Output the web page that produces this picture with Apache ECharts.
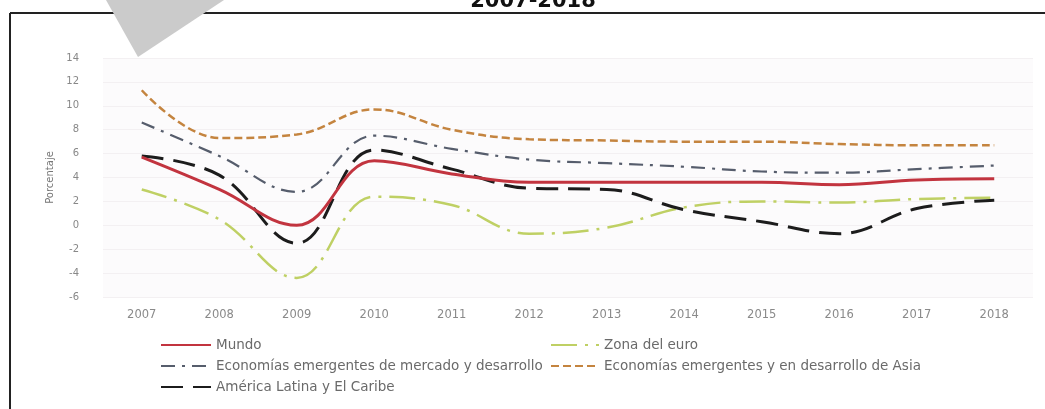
<!DOCTYPE html>
<html>
<head>
<meta charset="utf-8">
<script src="https://cdn.jsdelivr.net/npm/echarts@6/dist/echarts.min.js"></script>
<style>
html,body{margin:0;padding:0;background:#fff;}
#chart{width:1045px;height:409px;}
</style>
</head>
<body>
<div id="chart"></div>
<script>
var years = ['2007','2008','2009','2010','2011','2012','2013','2014','2015','2016','2017','2018'];
var yTicks = {min: -6, max: 14, interval: 2};
var mundo = [5.7, 3.0, 0.0, 5.4, 4.3, 3.6, 3.6, 3.6, 3.6, 3.4, 3.8, 3.9];
var zonaEuro = [3.0, 0.5, -4.4, 2.4, 1.7, -0.7, -0.2, 1.5, 2.0, 1.9, 2.2, 2.3];
var emergentes = [8.6, 5.8, 2.8, 7.5, 6.4, 5.5, 5.2, 4.9, 4.5, 4.4, 4.7, 5.0];
var asia = [11.3, 7.3, 7.6, 9.7, 8.0, 7.2, 7.1, 7.0, 7.0, 6.8, 6.7, 6.7];
var latam = [5.8, 4.2, -1.5, 6.3, 4.7, 3.1, 3.0, 1.3, 0.3, -0.7, 1.4, 2.1];
var names = ['Mundo', 'Zona del euro', 'Economías emergentes de mercado y desarrollo',
             'Economías emergentes y en desarrollo de Asia', 'América Latina y El Caribe'];

var font = 'DejaVu Sans';
function mk(name, data, color, width, dash, z) {
  return {
    name: name, type: 'line', data: data, smooth: 0.4, symbol: 'none', z: z,
    lineStyle: {color: color, width: width, type: dash},
    itemStyle: {color: color}
  };
}
var legendText = {color: '#6a6a6a', fontFamily: font, fontSize: 13.5};
var chart = echarts.init(document.getElementById('chart'));
chart.setOption({
  animation: false,
  backgroundColor: '#ffffff',
  grid: {left: 103, right: 12, top: 58, bottom: 112, show: true, backgroundColor: '#fcfbfc', borderWidth: 0},
  xAxis: {
    type: 'category', data: years, boundaryGap: true,
    axisLine: {show: false}, axisTick: {show: false},
    axisLabel: {color: '#8a8a8a', fontFamily: font, fontSize: 11.5, margin: 12}
  },
  yAxis: {
    type: 'value', min: yTicks.min, max: yTicks.max, interval: yTicks.interval,
    name: 'Porcentaje', nameLocation: 'middle', nameGap: 46, nameRotate: 90,
    nameTextStyle: {color: '#777', fontFamily: font, fontSize: 10},
    axisLine: {show: false}, axisTick: {show: false},
    axisLabel: {color: '#888', fontFamily: font, fontSize: 10, margin: 24},
    splitLine: {lineStyle: {color: '#f3f0f2', width: 1}}
  },
  legend: [
    {data: [names[0], names[2], names[4]], orient: 'vertical', left: 155, top: 333,
     itemWidth: 50, itemHeight: 12, itemGap: 7, itemStyle: {opacity: 0}, textStyle: legendText},
    {data: [names[1], names[3]], orient: 'vertical', left: 545, top: 333,
     itemWidth: 48, itemHeight: 12, itemGap: 7, itemStyle: {opacity: 0}, textStyle: legendText}
  ],
  graphic: [
    {type: 'line', shape: {x1: 10, y1: 13, x2: 1045, y2: 13}, style: {stroke: '#222', lineWidth: 2}, z: 100},
    {type: 'line', shape: {x1: 10, y1: 13, x2: 10, y2: 409}, style: {stroke: '#222', lineWidth: 2}, z: 100},
    {type: 'text', x: 533, y: 12, z: 100, style: {text: '2007-2018', fill: '#111', font: 'bold 21px "DejaVu Sans"', textAlign: 'center', textVerticalAlign: 'bottom'}},
    {type: 'polygon', z: 100, shape: {points: [[106, 0], [224, 0], [138, 57]]}, style: {fill: '#cbcbcb'}}
  ],
  series: [
    mk(names[0], mundo, '#c2343f', 3, 'solid', 5),
    mk(names[1], zonaEuro, '#bfd064', 2.5, [26, 8, 3, 8], 3),
    mk(names[2], emergentes, '#565d6c', 2.2, [14, 7, 3, 7], 3),
    mk(names[3], asia, '#c4843f', 2.5, [8, 4], 3),
    mk(names[4], latam, '#1c1c1c', 3, [22, 10], 4)
  ]
});
</script>
</body>
</html>
